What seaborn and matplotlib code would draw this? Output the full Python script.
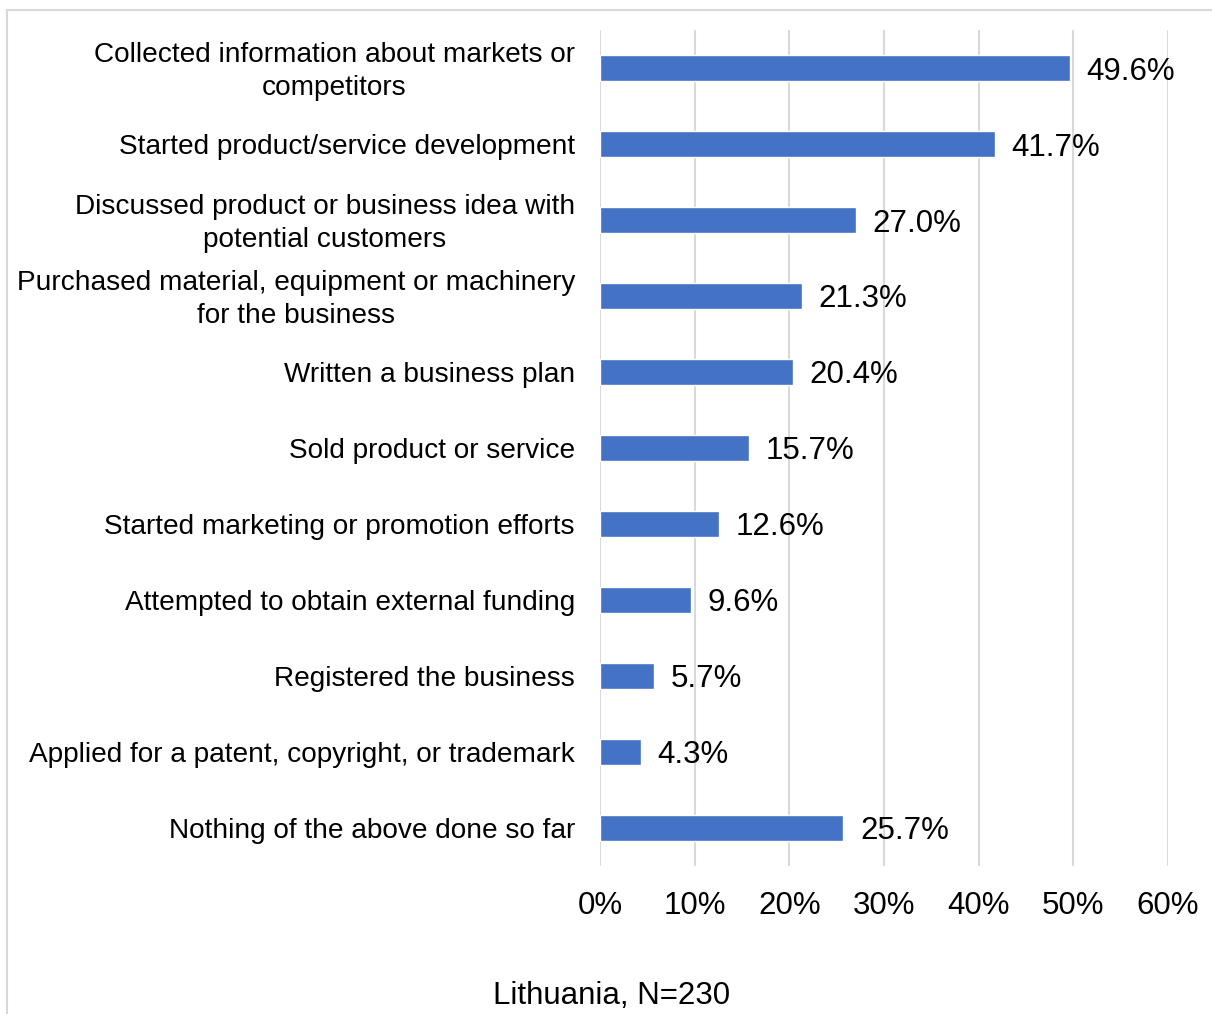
import matplotlib
matplotlib.use("Agg")
import matplotlib.pyplot as plt
import matplotlib.transforms as mtransforms
import seaborn as sns
import pandas as pd
from matplotlib.patches import Rectangle

categories = [
    "Collected information about markets or\ncompetitors",
    "Started product/service development",
    "Discussed product or business idea with\npotential customers",
    "Purchased material, equipment or machinery\nfor the business",
    "Written a business plan",
    "Sold product or service",
    "Started marketing or promotion efforts",
    "Attempted to obtain external funding",
    "Registered the business",
    "Applied for a patent, copyright, or trademark",
    "Nothing of the above done so far",
]
values = [49.6, 41.7, 27.0, 21.3, 20.4, 15.7, 12.6, 9.6, 5.7, 4.3, 25.7]
x_ticks = [0, 10, 20, 30, 40, 50, 60]
x_ticklabels = ["0%", "10%", "20%", "30%", "40%", "50%", "60%"]
title = "Lithuania, N=230"

df = pd.DataFrame({"Activity": categories, "Share": values})

sns.set_style("white")
plt.rcParams["font.family"] = ["Liberation Sans", "DejaVu Sans"]
plt.rcParams["text.color"] = "black"
plt.rcParams["xtick.color"] = "black"
plt.rcParams["ytick.color"] = "black"

fig = plt.figure(figsize=(12.12, 10.14), dpi=100)
ax = fig.add_axes([0.495, 0.146, 0.4687, 0.8244])

sns.barplot(data=df, x="Share", y="Activity", orient="h", color="#4472C4",
            saturation=1, width=0.34, ax=ax)

ax.set_xlim(0, 60)
ax.set_xticks(x_ticks)
ax.set_xticklabels(x_ticklabels, fontsize=22.5)
ax.tick_params(axis="x", length=0, pad=18)
ax.tick_params(axis="y", length=0, pad=18, labelsize=20.2)
# two-line labels sit a little higher in the original
lift = mtransforms.ScaledTranslation(0, 3 / 100, fig.dpi_scale_trans)
for lab in ax.get_yticklabels():
    lab.set_multialignment("center")
    lab.set_linespacing(1.35)
    if "\n" in lab.get_text():
        lab.set_transform(lab.get_transform() + lift)
ax.set_xlabel("")
ax.set_ylabel("")
ax.grid(axis="x", color="#d9d9d9", linewidth=1.5)
ax.set_axisbelow(True)
for s in ax.spines.values():
    s.set_visible(False)

for i, v in enumerate(values):
    ax.annotate(f"{v:.1f}%", (v, i), xytext=(12, 0), textcoords="offset points",
                va="center_baseline", ha="left", fontsize=22.5)

fig.text(0.505, 0.018, title, ha="center", va="center", fontsize=22.5)

fig.patches.append(Rectangle((7 / 1212, -0.1), 1.2, 1 - 10 / 1014 + 0.1,
                             transform=fig.transFigure, fill=False,
                             edgecolor="#d9d9d9", linewidth=1.5))

fig.savefig("out.png", dpi=100)
